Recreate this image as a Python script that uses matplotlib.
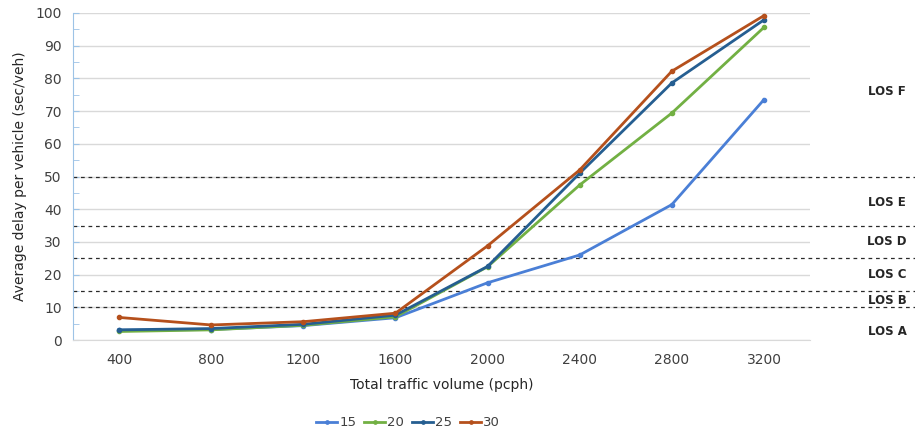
import matplotlib
matplotlib.use('Agg')
import matplotlib.pyplot as plt
from matplotlib.transforms import blended_transform_factory

# data
volumes = ['400', '800', '1200', '1600', '2000', '2400', '2800', '3200']
delay_15 = [3.0, 3.2, 4.4, 6.8, 17.5, 26.0, 41.4, 73.5]
delay_20 = [2.6, 3.1, 4.5, 7.1, 22.4, 47.4, 69.4, 95.6]
delay_25 = [3.1, 3.5, 4.8, 7.6, 22.5, 51.0, 78.6, 97.9]
delay_30 = [6.9, 4.6, 5.6, 8.2, 28.8, 52.0, 82.2, 99.2]
series_names = ['15', '20', '25', '30']
colors = ['#4a7fd6', '#72b043', '#255e91', '#b5501c']

los_bounds = [10, 15, 25, 35, 50]
los_labels = ['LOS A', 'LOS B', 'LOS C', 'LOS D', 'LOS E', 'LOS F']
los_label_y = [2.5, 12, 20, 30, 42, 76]

plt.rcParams['font.family'] = ['DejaVu Sans']

fig = plt.figure(figsize=(9.15, 4.32), dpi=100)
ax = fig.add_axes([73/915, 92/432, 737/915, 327/432])

x = list(range(len(volumes)))
for vals, name, c in zip([delay_15, delay_20, delay_25, delay_30], series_names, colors):
    ax.plot(x, vals, color=c, lw=2, marker='o', ms=3, label=name, zorder=3)

ax.set_xlim(-0.5, len(volumes) - 0.5)
ax.set_ylim(0, 100)
ax.set_yticks(range(0, 101, 10))
ax.set_yticks(range(5, 100, 10), minor=True)
ax.set_xticks(x)
ax.set_xticklabels(volumes)
ax.yaxis.grid(True, color='#d9d9d9', lw=1)
ax.set_axisbelow(True)
ax.tick_params(axis='y', which='major', direction='in', length=4, color='#9dc3e6',
               labelsize=10, labelcolor='#404040', pad=8)
ax.tick_params(axis='y', which='minor', direction='in', length=4, color='#9dc3e6')
ax.tick_params(axis='x', length=0, labelsize=10, labelcolor='#404040', pad=9)
for s in ['top', 'right']:
    ax.spines[s].set_visible(False)
ax.spines['bottom'].set_color('#d9d9d9')
ax.spines['left'].set_color('#9dc3e6')

# LOS boundaries run out past the plot area to the labels
trans = blended_transform_factory(fig.transFigure, ax.transData)
for b in los_bounds:
    ax.plot([73/915, 1.0], [b, b], transform=trans, color='#2a2a2a', lw=0.9,
            ls=(0, (3, 3)), clip_on=False, zorder=2)
for lab, yv in zip(los_labels, los_label_y):
    ax.text(887/915, yv, lab, transform=trans, ha='center', va='center',
            fontsize=8.5, fontweight='bold', color='#262626')

ax.set_xlabel('Total traffic volume (pcph)', fontsize=10, color='#262626', labelpad=8)
ax.set_ylabel('Average delay per vehicle (sec/veh)', fontsize=10, color='#262626', labelpad=6)

ax.legend(loc='center', bbox_to_anchor=(408/915, 9/432), bbox_transform=fig.transFigure,
          ncol=4, frameon=False, fontsize=9.5, handlelength=1.6, handletextpad=0.15,
          columnspacing=0.6, labelcolor='#404040', markerscale=0.8)

fig.savefig('out.png', dpi=100)
